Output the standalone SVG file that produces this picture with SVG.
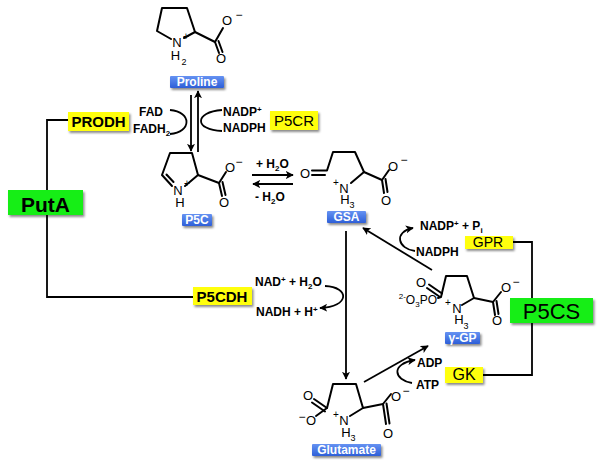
<svg xmlns="http://www.w3.org/2000/svg" width="601" height="466" viewBox="0 0 601 466">
<defs>
<marker id="ah" viewBox="0 0 10 10" refX="9" refY="5" markerWidth="8" markerHeight="8" markerUnits="userSpaceOnUse" orient="auto"><path d="M0,0 L10,5 L0,10 L2.5,5 z" fill="#000"/></marker>
<filter id="sh" x="-20%" y="-30%" width="150%" height="180%"><feDropShadow dx="1.5" dy="2" stdDeviation="1.2" flood-color="#000" flood-opacity="0.45"/></filter>
<linearGradient id="bl" x1="0" y1="0" x2="0" y2="1"><stop offset="0" stop-color="#6592f2"/><stop offset="1" stop-color="#2d5fd8"/></linearGradient>
</defs>
<style>
.b{stroke:#000;stroke-width:2;fill:none;stroke-linecap:round;stroke-linejoin:round}
.a{stroke:#000;stroke-width:1.8;fill:none;marker-end:url(#ah)}
.l{stroke:#000;stroke-width:1.8;fill:none}
.at{font-family:"Liberation Sans",Arial,sans-serif;font-size:13px;fill:#000;text-anchor:middle}
.sm{font-family:"Liberation Sans",Arial,sans-serif;font-size:10px;fill:#000;text-anchor:middle}
.mi{font-family:"Liberation Sans",Arial,sans-serif;font-size:12px;fill:#000;text-anchor:middle}
.sb{font-family:"Liberation Sans",Arial,sans-serif;font-size:9px;fill:#000;text-anchor:middle}
.cf{font-family:"Liberation Sans",Arial,sans-serif;font-size:12px;font-weight:bold;fill:#000}
.lab rect{fill:url(#bl);filter:url(#sh)}
.lab text{font-family:"Liberation Sans",Arial,sans-serif;font-size:12px;font-weight:bold;fill:#fff;text-anchor:middle}
.enz rect{fill:#ffff10;filter:url(#sh)}
.enz text{font-family:"Liberation Sans",Arial,sans-serif;fill:#000;text-anchor:middle}
.grn rect{fill:#14ee14}
</style>

<g id="connectors">
<path class="l" d="M68,120 H47 V297 H193"/>
<path class="l" d="M513,242 H532 V375 H483"/>
<path class="a" d="M191,95 V151"/>
<path class="a" d="M198,152 V91"/>
<path class="a" d="M252,175 H293"/>
<path class="a" d="M293,184 H253"/>
<path class="a" d="M346,231 V379"/>
<path class="a" d="M364,382 L428,346"/>
<path class="a" d="M432,270 L363,228"/>
<path class="l" d="M170,110 C192,112 192,132 170,134"/>
<path class="l" d="M222,110 C194,112 194,130 222,131"/>
<path class="a" d="M325,286 C350,287 350,307 320,308"/>
<path class="a" d="M415,251 C398,249 393,232 413,228"/>
<path class="a" d="M412,383 C394,380 390,364 415,360"/>
</g>

<g id="proline">
<path class="b" d="M171,39 L157,31 L162,8 L187,8 L195,32 L184,38"/>
<path class="b" d="M195,32 L215,42 L223,28"/>
<path class="b" d="M215,42 L219,53 M218.5,41 L222.5,52"/>
<text class="at" x="177" y="47">N</text>
<text class="sm" x="186" y="40">+</text>
<text class="at" x="175.5" y="60">H</text>
<text class="sb" x="184" y="65">2</text>
<text class="at" x="227" y="25">O</text>
<text class="mi" x="239" y="19">−</text>
<text class="at" x="221" y="63">O</text>
</g>
<g id="lbl-proline" class="lab"><rect x="170" y="76" width="54" height="12" rx="1"/><text x="197" y="86">Proline</text></g>

<g id="p5c">
<path class="b" d="M172,186 L162,175 L170,153 L192,153 L198,175 L185,186"/>
<path class="b" d="M166.5,174.5 L173.5,182"/>
<path class="b" d="M198,175 L219,183 L226,172"/>
<path class="b" d="M219,183 L222,196 M222.5,182 L225.5,195"/>
<text class="at" x="178" y="195">N</text>
<text class="sm" x="187" y="187">+</text>
<text class="at" x="180" y="207">H</text>
<text class="at" x="230" y="172">O</text>
<text class="mi" x="239" y="166">−</text>
<text class="at" x="224" y="207">O</text>
</g>
<g id="lbl-p5c" class="lab"><rect x="182" y="214" width="30" height="12" rx="1"/><text x="197" y="224">P5C</text></g>

<g id="gsa">
<path class="b" d="M312,170.5 L327,170.5 L333,152 L355,152 L364,172 L382,180 L389,170"/>
<path class="b" d="M312,175 L325,175"/>
<path class="b" d="M364,172 L351,183"/>
<path class="b" d="M382,180 L384,193 M385.5,179 L387.5,192"/>
<text class="at" x="305" y="178">O</text>
<text class="at" x="344" y="193">N</text>
<text class="sm" x="336" y="186">+</text>
<text class="at" x="345" y="204">H</text>
<text class="sb" x="352" y="208">3</text>
<text class="at" x="393" y="171">O</text>
<text class="mi" x="404" y="164">−</text>
<text class="at" x="386" y="205">O</text>
</g>
<g id="lbl-gsa" class="lab"><rect x="327" y="211" width="39" height="12" rx="1"/><text x="346.5" y="221">GSA</text></g>

<g id="ggp">
<path class="b" d="M438,298 L441,297 L446,276 L467,276 L474,298 L493,302 L501,292"/>
<path class="b" d="M427,288 L440,297 M429,284.5 L442,293.5"/>
<path class="b" d="M474,298 L462,305"/>
<path class="b" d="M493,302 L495,315 M496.5,301 L498.5,314"/>
<text class="at" x="421" y="287">O</text>
<text x="437" y="304" style="font-family:'Liberation Sans',Arial,sans-serif;font-size:12px;text-anchor:end;fill:#000"><tspan style="font-size:8px" dy="-5">2-</tspan><tspan dy="5">O</tspan><tspan style="font-size:8px" dy="3">3</tspan><tspan dy="-3">PO</tspan></text>
<text class="at" x="457" y="313">N</text>
<text class="sm" x="448" y="306">+</text>
<text class="at" x="459" y="324">H</text>
<text class="sb" x="466" y="329">3</text>
<text class="at" x="506" y="292">O</text>
<text class="mi" x="516" y="286">−</text>
<text class="at" x="497" y="325">O</text>
</g>
<g id="lbl-ggp" class="lab"><rect x="445" y="332" width="35" height="12" rx="1"/><text x="462.5" y="342">γ-GP</text></g>

<g id="glutamate">
<path class="b" d="M314,399 L327,408 M312,402.5 L325,411.5"/>
<path class="b" d="M316,416 L327,408 L333,384 L356,384 L363,408 L383,404 L391,394"/>
<path class="b" d="M363,408 L350,416"/>
<path class="b" d="M383,404 L386,424 M386.5,403.5 L389.5,423.5"/>
<text class="at" x="308" y="400">O</text>
<text class="at" x="311" y="425">O</text>
<text class="mi" x="302" y="421">−</text>
<text class="at" x="344" y="425">N</text>
<text class="sm" x="336" y="418">+</text>
<text class="at" x="346" y="437">H</text>
<text class="sb" x="353" y="441">3</text>
<text class="at" x="396" y="401">O</text>
<text class="mi" x="406" y="395">−</text>
<text class="at" x="388" y="438">O</text>
</g>
<g id="lbl-glutamate" class="lab"><rect x="312" y="444" width="69" height="12" rx="1"/><text x="346.5" y="454">Glutamate</text></g>

<g id="cofactors">
<text class="cf" x="139" y="116">FAD</text>
<text class="cf" x="133" y="133">FADH<tspan style="font-size:8px" dy="3">2</tspan></text>
<text class="cf" x="223" y="116">NADP<tspan style="font-size:8px" dy="-4">+</tspan></text>
<text class="cf" x="223" y="132">NADPH</text>
<text class="cf" x="256" y="168">+ H<tspan style="font-size:8px" dy="3">2</tspan><tspan dy="-3">O</tspan></text>
<text class="cf" x="255" y="201">- H<tspan style="font-size:8px" dy="3">2</tspan><tspan dy="-3">O</tspan></text>
<text class="cf" x="255" y="286">NAD<tspan style="font-size:8px" dy="-4">+</tspan><tspan dy="4"> + H</tspan><tspan style="font-size:8px" dy="3">2</tspan><tspan dy="-3">O</tspan></text>
<text class="cf" x="256" y="316">NADH + H<tspan style="font-size:8px" dy="-4">+</tspan></text>
<text class="cf" x="420" y="230">NADP<tspan style="font-size:8px" dy="-4">+</tspan><tspan dy="4"> + P</tspan><tspan style="font-size:8px" dy="3">i</tspan></text>
<text class="cf" x="416" y="256">NADPH</text>
<text class="cf" x="417" y="367">ADP</text>
<text class="cf" x="416" y="389">ATP</text>
</g>

<g id="prodh" class="enz"><rect x="68" y="112" width="61" height="19"/><text x="98.5" y="127" style="font-size:15px;font-weight:bold">PRODH</text></g>
<g id="p5cr" class="enz"><rect x="270" y="111" width="48" height="19"/><text x="294" y="126" style="font-size:15px">P5CR</text></g>
<g id="p5cdh" class="enz"><rect x="193" y="287" width="59" height="18"/><text x="222" y="302" style="font-size:15px;font-weight:bold">P5CDH</text></g>
<g id="gpr" class="enz"><rect x="465" y="236" width="48" height="13"/><text x="488" y="247" style="font-size:14px">GPR</text></g>
<g id="gk" class="enz"><rect x="445" y="367" width="38" height="16"/><text x="464" y="380" style="font-size:16px">GK</text></g>
<g id="puta" class="enz grn"><rect x="8" y="190" width="75" height="25"/><text x="45.5" y="212" style="font-size:21px;font-weight:bold">PutA</text></g>
<g id="p5cs" class="enz grn"><rect x="510" y="298" width="83" height="25"/><text x="551.5" y="319" style="font-size:22px">P5CS</text></g>
</svg>
